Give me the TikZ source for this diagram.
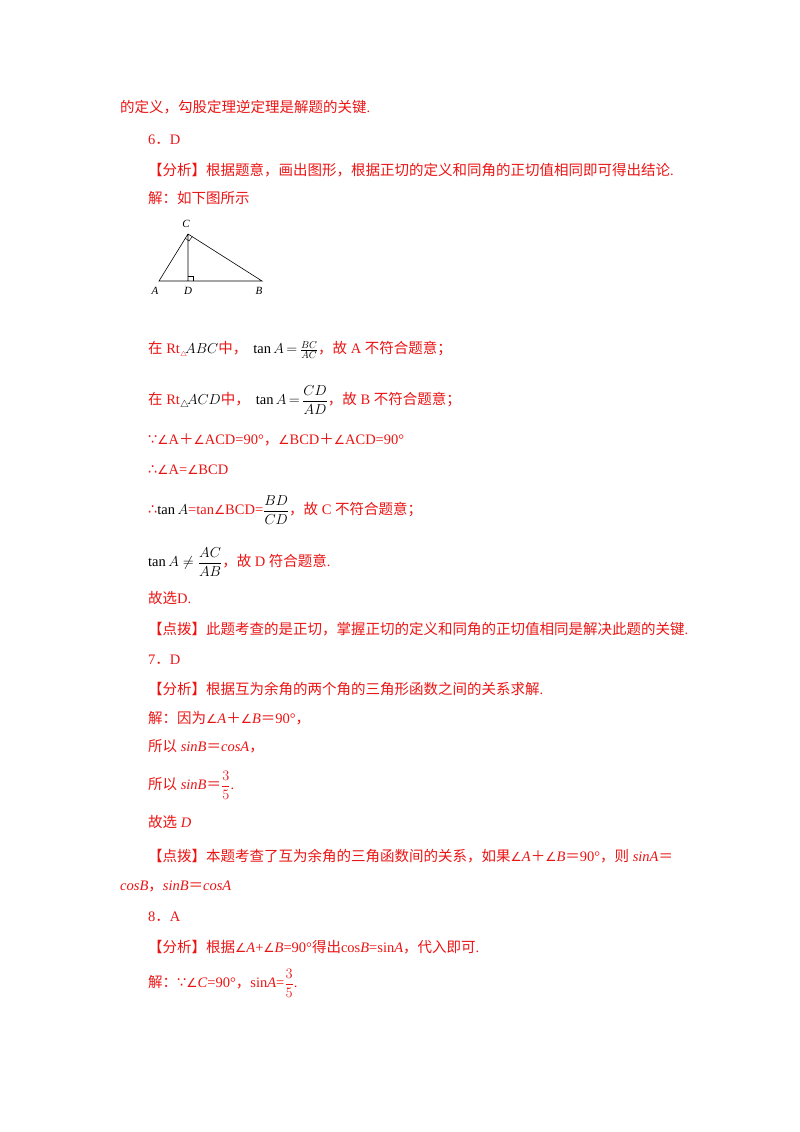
\documentclass[tikz,border=0pt]{standalone}
\usepackage{amsmath}
\usepackage{fontspec}
\usetikzlibrary{calc}
\setmainfont{Liberation Serif}
\newfontfamily\cjk{Noto Sans CJK SC}
\newfontfamily\dv{DejaVu Sans}
\definecolor{tred}{RGB}{235,20,20}
\newcommand{\zh}[1]{{\cjk #1}}
\newcommand{\ang}{{\dv\fontsize{12.5}{15}\selectfont ∠}}
\newcommand{\becs}{{\dv ∵}}
\newcommand{\thfr}{{\dv ∴}}
\tikzset{ln/.style={anchor=base west,inner sep=0pt,text=tred,font=\fontsize{14.5}{17}\selectfont},
 lab/.style={inner sep=0pt,font=\fontsize{11}{12}\selectfont\itshape}}
\begin{document}
\begin{tikzpicture}[x=1pt,y=1pt]
\useasboundingbox (0,0) rectangle (800,1132);
\node[ln] (l1) at (120,1132-113) {\zh{的定义，勾股定理逆定理是解题的关键}.};
\node[ln] (l2) at (148,1132-145) {6\zh{．}D};
\node[ln] (l3) at (148,1132-176) {\zh{【分析】根据题意，画出图形，根据正切的定义和同角的正切值相同即可得出结论}.};
\node[ln] (l4) at (148,1132-204) {\zh{解：如下图所示}};
% triangle
\coordinate (A) at (159,1132-281);
\coordinate (D) at (188,1132-281);
\coordinate (B) at (262,1132-281);
\coordinate (C) at (188,1132-234);
\draw[line width=0.6pt] (A)--(B)--(C)--cycle (C)--(D);
\draw[line width=0.5pt] (188,1132-276)-|(193,1132-281);
\draw[line width=0.5pt] ($(C)!5pt!(A)$) -- ++(3.6,-2.8) -- ($(C)!5pt!(B)$);
\node[lab] (la) at (155,1132-291) {A};
\node[lab] (ld) at (188,1132-291) {D};
\node[lab] (lb) at (259,1132-291) {B};
\node[lab] (lc) at (186,1132-224) {C};
% lines
\node[ln] (l5) at (148,1132-354) {\zh{在} Rt$_{\scriptscriptstyle\triangle}\!\color{black}ABC$\zh{中，}\hspace{6pt}{\color{black}$\mathrm{tan}\,A\,{=}\,\frac{BC}{AC}$}\zh{，故} A \zh{不符合题意；}};
\node[ln] (l6) at (148,1132-405) {\zh{在} Rt{\color{black}$_{\triangle}\!ACD$}\zh{中，}\hspace{6pt}{\color{black}$\mathrm{tan}\,A\,{=}\,\dfrac{CD}{AD}$}\zh{，故} B \zh{不符合题意；}};
\node[ln] (l7) at (148,1132-445) {\becs\ang A\zh{＋}\ang ACD=90°\zh{，}\ang BCD\zh{＋}\ang ACD=90°};
\node[ln] (l8) at (148,1132-475) {\thfr\ang A=\ang BCD};
\node[ln] (l9) at (148,1132-515) {\thfr{\color{black}$\mathrm{tan}\,A$}=tan\ang BCD=$\color{black}\dfrac{BD}{CD}$\zh{，故} C \zh{不符合题意；}};
\node[ln] (l10) at (148,1132-567) {{\color{black}$\mathrm{tan}\,A\neq\dfrac{AC}{AB}$}\zh{，故} D \zh{符合题意}.};
\node[ln] (l11) at (148,1132-604) {\zh{故选}D.};
\node[ln] (l12) at (148,1132-635) {\zh{【点拨】此题考查的是正切，掌握正切的定义和同角的正切值相同是解决此题的关键}.};
\node[ln] (l13) at (148,1132-665) {7\zh{．}D};
\node[ln] (l14) at (148,1132-695) {\zh{【分析】根据互为余角的两个角的三角形函数之间的关系求解}.};
\node[ln] (l15) at (148,1132-724) {\zh{解：因为}\ang\textit{A}\zh{＋}\ang\textit{B}\zh{＝}90°\zh{，}};
\node[ln] (l16) at (148,1132-752) {\zh{所以} \textit{sinB}\zh{＝}\textit{cosA}\zh{，}};
\node[ln] (l17) at (148,1132-790) {\zh{所以} \textit{sinB}\zh{＝}$\dfrac{3}{5}$.};
\node[ln] (l18) at (148,1132-828) {\zh{故选} \textit{D}};
\node[ln] (l19) at (148,1132-862) {\zh{【点拨】本题考查了互为余角的三角函数间的关系，如果}\ang\textit{A}\zh{＋}\ang\textit{B}\zh{＝}90°\zh{，则} \textit{sinA}\zh{＝}};
\node[ln] (l20) at (120,1132-891) {\textit{cosB}\zh{，}\textit{sinB}\zh{＝}\textit{cosA}};
\node[ln] (l21) at (148,1132-922) {8\zh{．}A};
\node[ln] (l22) at (148,1132-953) {\zh{【分析】根据}\ang\textit{A}+\ang\textit{B}=90°\zh{得出}cos\textit{B}=sin\textit{A}\zh{，代入即可}.};
\node[ln] (l23) at (148,1132-988) {\zh{解：}\becs\ang\textit{C}=90°\zh{，}sin\textit{A}=$\dfrac{3}{5}$.};
\end{tikzpicture}
\end{document}
